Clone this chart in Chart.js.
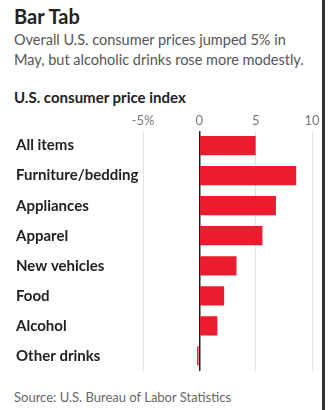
<!DOCTYPE html>
<html>
<head>
<meta charset="utf-8">
<script src="https://cdn.jsdelivr.net/npm/chart.js@4.4.0/dist/chart.umd.min.js"></script>
<style>
    body { margin: 0; width: 328px; height: 410px; background: #fff; position: relative; overflow: hidden; font-family: Lato, sans-serif; }
    .title { position: absolute; left: 14px; top: 4px; font-size: 20px; font-weight: bold; color: #222; }
    .sub { position: absolute; left: 14px; top: 30px; font-size: 14.5px; line-height: 20px; color: #555; }
    .label { position: absolute; left: 14px; top: 88px; font-size: 15px; font-weight: bold; color: #222; }
    .source { position: absolute; left: 14px; top: 389px; font-size: 13px; color: #666; }
    .edge { position: absolute; left: 322px; top: 0; width: 3px; height: 410px; background: #333; }
    .wrap { position: absolute; left: 0; top: 101px; width: 328px; height: 272px; }
    canvas { display: block; }
</style>
</head>
<body>
<div class="title">Bar Tab</div>
<div class="sub">Overall U.S. consumer prices jumped 5% in<br>May, but alcoholic drinks rose more modestly.</div>
<div class="label">U.S. consumer price index</div>
<div class="wrap"><canvas id="chart" width="328" height="272"></canvas></div>
<div class="source">Source: U.S. Bureau of Labor Statistics</div>
<div class="edge"></div>
<script>
let categories = ['All items', 'Furniture/bedding', 'Appliances', 'Apparel', 'New vehicles', 'Food', 'Alcohol', 'Other drinks']
let changes = [5.0, 8.6, 6.8, 5.6, 3.3, 2.2, 1.6, -0.2]
let xTicks = [-5, 0, 5, 10]

let canvas = document.querySelector('#chart')

const data = {
    labels: categories,
    datasets: [
        {
            data: changes,
            backgroundColor: '#ec1b2e',
            borderWidth: 0,
            barPercentage: 0.64,
            categoryPercentage: 1
        }
    ]
}

const config = {
    type: 'bar',
    data: data,
    options: {
        indexAxis: 'y',
        responsive: false,
        animation: false,
        layout: {
            padding: { left: 16, right: 16, top: 0, bottom: 2 }
        },
        plugins: {
            legend: { display: false },
            tooltip: { enabled: false }
        },
        scales: {
            x: {
                position: 'top',
                min: -5,
                max: 10,
                afterBuildTicks: (scale) => {
                    scale.ticks = xTicks.map(v => ({ value: v }))
                },
                afterFit: (scale) => {
                    scale.height = 29.5
                    scale.paddingLeft = 0
                    scale.paddingRight = 0
                },
                grid: {
                    drawTicks: false,
                    color: (ctx) => ctx.tick && ctx.tick.value === 0 ? '#222' : '#e2e2e2',
                    lineWidth: (ctx) => ctx.tick && ctx.tick.value === 0 ? 1.5 : 1
                },
                border: { display: false },
                ticks: {
                    padding: 2,
                    color: '#777',
                    font: { family: 'Lato', size: 13 },
                    callback: (v) => v === -5 ? '-5%' : String(v)
                }
            },
            y: {
                afterFit: (scale) => {
                    scale.width = 127
                    scale.paddingTop = 0
                    scale.paddingBottom = 0
                },
                grid: { display: false },
                border: { display: false },
                ticks: {
                    crossAlign: 'far',
                    color: '#222',
                    font: { family: 'Lato', size: 15, weight: 'bold' }
                }
            }
        }
    }
}

new Chart(canvas, config)
</script>
</body>
</html>
